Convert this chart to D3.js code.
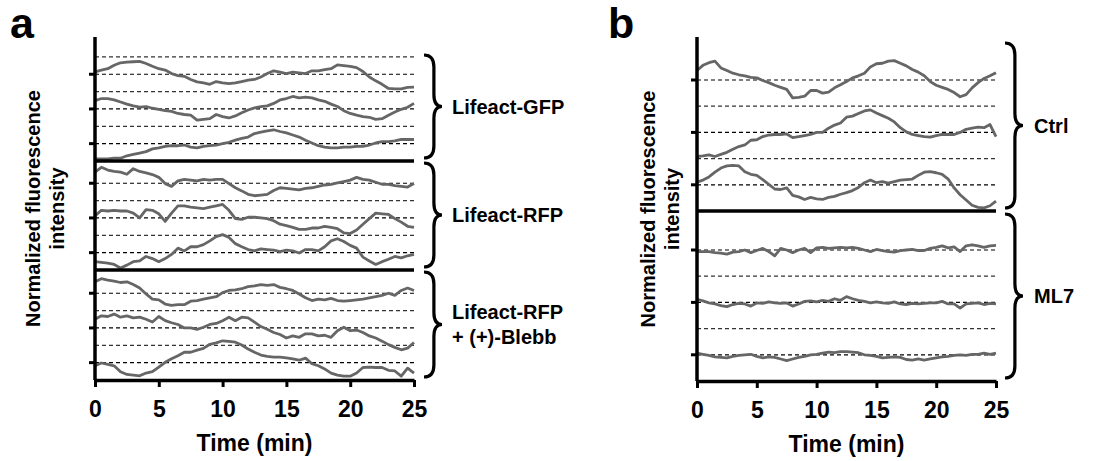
<!DOCTYPE html>
<html>
<head>
<meta charset="utf-8">
<script src="https://cdn.jsdelivr.net/npm/d3@7"></script>
<style>
  body { margin: 0; background: #fff; }
  text { font-family: "Liberation Sans", Arial, sans-serif; font-weight: bold; fill: #000; }
</style>
</head>
<body>
<svg id="chart" width="1115" height="461"></svg>
<script>
// one sample every 30 s over 25 min
const minutes = d3.range(0, 25.001, 0.5);
const timeTicks = [0, 5, 10, 15, 20, 25];

// each trace: deviation from its own baseline, in baseline steps; listed top to bottom
const gfpTraces = [
  [0.07,0.12,0.16,0.26,0.33,0.35,0.36,0.37,0.31,0.23,0.16,0.12,0.02,-0.04,-0.06,-0.15,-0.22,-0.25,-0.29,-0.21,-0.25,-0.27,-0.25,-0.21,-0.17,-0.15,-0.08,0.02,0.10,0.06,0.02,0.06,0.04,0.02,0.10,0.10,0.13,0.16,0.27,0.25,0.23,0.19,0.08,-0.08,-0.19,-0.29,-0.41,-0.42,-0.42,-0.38,-0.37],
  [0.24,0.30,0.30,0.26,0.20,0.14,0.09,0.05,0.07,0.02,-0.01,-0.05,-0.07,-0.13,-0.16,-0.18,-0.32,-0.30,-0.28,-0.16,-0.22,-0.26,-0.20,-0.11,-0.03,0.03,0.07,0.09,0.16,0.26,0.30,0.36,0.32,0.34,0.32,0.26,0.22,0.14,0.07,-0.05,-0.13,-0.18,-0.22,-0.24,-0.30,-0.28,-0.18,-0.09,-0.01,0.05,0.16],
  [-0.44,-0.44,-0.44,-0.42,-0.42,-0.35,-0.31,-0.27,-0.23,-0.15,-0.12,-0.08,-0.06,-0.06,-0.04,-0.10,-0.12,-0.08,-0.06,-0.04,0,0.04,0.10,0.15,0.19,0.29,0.33,0.37,0.40,0.35,0.31,0.25,0.19,0.10,0.02,-0.06,-0.10,-0.12,-0.12,-0.10,-0.10,-0.08,-0.08,-0.04,0.02,0.06,0.06,0.08,0.12,0.12,0.12]
];
const rfpTraces = [
  [0.32,0.46,0.38,0.34,0.32,0.26,0.42,0.34,0.30,0.25,0.17,-0.01,-0.09,0.07,0.11,0.09,0.07,0.11,0.09,0.11,0.11,-0.01,-0.13,-0.22,-0.32,-0.36,-0.34,-0.32,-0.21,-0.13,-0.15,-0.17,-0.19,-0.15,-0.13,-0.09,-0.05,-0.03,0.01,0.05,0.09,0.17,0.11,0.09,0.03,-0.03,-0.03,-0.07,-0.09,-0.11,-0.01],
  [0.06,0.22,0.20,0.22,0.20,0.20,0.14,0,0.24,0.22,0.12,-0.10,0.14,0.35,0.35,0.31,0.29,0.27,0.31,0.35,0.39,0.22,-0.02,-0.04,0.02,0.02,0,-0.02,-0.08,-0.18,-0.22,-0.27,-0.33,-0.33,-0.29,-0.29,-0.24,-0.27,-0.31,-0.43,-0.45,-0.35,-0.18,-0.02,0.14,0.12,0.10,-0.02,-0.12,-0.24,-0.27],
  [-0.26,-0.28,-0.30,-0.34,-0.44,-0.36,-0.26,-0.24,-0.11,-0.17,-0.26,-0.17,-0.05,0.13,0.05,0.17,0.17,0.23,0.34,0.46,0.52,0.44,0.26,0.17,0.09,0.05,0.11,0.09,0.07,0.03,0.07,0.05,-0.01,0.09,0.09,0.05,0.17,0.34,0.40,0.32,0.21,0.13,-0.13,-0.24,-0.34,-0.26,-0.19,-0.11,-0.15,-0.09,-0.05]
];
const blebbTraces = [
  [0.33,0.42,0.38,0.35,0.31,0.33,0.25,0.15,-0.02,-0.17,-0.19,-0.31,-0.35,-0.33,-0.33,-0.23,-0.21,-0.17,-0.13,-0.10,0.02,0.08,0.10,0.13,0.19,0.21,0.25,0.23,0.25,0.17,0.13,0.08,-0.02,-0.13,-0.21,-0.17,-0.19,-0.15,-0.21,-0.23,-0.21,-0.19,-0.17,-0.13,-0.10,-0.06,0,-0.06,0.08,0.15,0.08],
  [0.25,0.35,0.33,0.40,0.31,0.35,0.29,0.31,0.25,0.17,0.33,0.21,0.15,0.10,0,0,-0.04,0.02,0.10,0.13,0.21,0.31,0.21,0.31,0.29,0.17,0.04,-0.04,-0.13,-0.19,-0.29,-0.23,-0.27,-0.17,-0.17,-0.23,-0.21,-0.27,-0.08,0.02,-0.08,-0.06,-0.13,-0.23,-0.29,-0.38,-0.48,-0.56,-0.63,-0.58,-0.42],
  [-0.09,-0.01,-0.05,-0.09,-0.26,-0.34,-0.36,-0.38,-0.30,-0.26,-0.13,0.01,0.11,0.20,0.30,0.30,0.36,0.41,0.53,0.57,0.63,0.61,0.59,0.51,0.39,0.30,0.22,0.18,0.16,0.16,0.14,0.11,0.07,0.13,-0.03,-0.09,-0.18,-0.30,-0.36,-0.39,-0.39,-0.30,-0.14,-0.13,-0.14,-0.14,-0.22,-0.24,-0.39,-0.16,-0.30]
];
const ctrlTraces = [
  [0.18,0.28,0.33,0.36,0.23,0.18,0.13,0.10,0.08,0.05,0.04,-0.01,-0.05,-0.10,-0.14,-0.18,-0.34,-0.33,-0.31,-0.20,-0.20,-0.25,-0.23,-0.15,-0.09,-0.03,0.04,0.08,0.13,0.25,0.31,0.32,0.36,0.37,0.32,0.27,0.20,0.15,0.08,-0.03,-0.10,-0.14,-0.18,-0.24,-0.32,-0.28,-0.15,-0.05,0.03,0.08,0.14],
  [-0.46,-0.45,-0.43,-0.46,-0.42,-0.38,-0.32,-0.27,-0.24,-0.15,-0.14,-0.08,-0.05,-0.04,-0.04,-0.03,-0.10,-0.08,-0.06,-0.04,0,0,0.08,0.14,0.18,0.29,0.31,0.36,0.41,0.43,0.37,0.32,0.27,0.20,0.09,0.01,-0.04,-0.06,-0.08,-0.09,-0.06,-0.04,-0.04,-0.04,0,0.06,0.08,0.10,0.09,0.15,-0.08],
  [0.05,0.09,0.15,0.24,0.32,0.36,0.37,0.36,0.25,0.20,0.18,0.10,0.01,-0.08,-0.09,-0.06,-0.20,-0.23,-0.28,-0.24,-0.27,-0.28,-0.24,-0.22,-0.18,-0.15,-0.11,-0.05,0.04,0.09,0.04,0.06,0.03,0.06,0.09,0.10,0.11,0.18,0.24,0.25,0.23,0.20,0.11,-0.06,-0.19,-0.29,-0.39,-0.43,-0.44,-0.40,-0.31]
];
const ml7Traces = [
  [-0.03,-0.03,-0.03,-0.05,-0.06,-0.08,-0.04,-0.03,0,-0.05,-0.01,0.03,-0.03,-0.11,0.03,0,-0.05,0,0.03,-0.05,0.04,0.05,0.03,0.04,0.05,0.04,0.05,0.03,0,-0.03,0.01,-0.01,-0.03,-0.04,-0.01,0,0.01,-0.01,-0.01,0.03,0.05,0.08,0.04,0.06,-0.03,0.08,0.10,0.08,0.05,0.08,0.09],
  [0.06,0.03,-0.01,-0.03,-0.06,-0.08,-0.04,-0.02,-0.03,-0.07,-0.01,-0.02,0.01,-0.01,-0.02,-0.01,-0.07,-0.03,0.02,0.03,0.01,0.04,0.02,0.07,0.04,0.11,0.07,0.04,0.02,-0.01,0.01,-0.01,-0.02,0.01,-0.03,-0.04,-0.02,-0.03,-0.02,-0.01,-0.01,0.02,-0.03,-0.03,-0.11,-0.03,-0.02,-0.01,-0.04,-0.02,-0.03],
  [0.03,0.01,-0.01,-0.04,-0.05,-0.06,-0.03,-0.01,0,0.01,-0.03,-0.06,-0.04,-0.05,-0.08,-0.11,-0.08,-0.05,-0.03,0,0.01,0.03,0.05,0.04,0.06,0.06,0.05,0.04,0,-0.01,-0.03,-0.06,-0.05,-0.04,-0.05,-0.09,-0.10,-0.08,-0.10,-0.08,-0.06,-0.04,-0.03,-0.01,0,-0.01,0.01,0.01,0.03,0.01,0.03]
];

const yTitle = ["Normalized fluorescence", "intensity"];
const xTitle = "Time (min)";

// layout
const panels = [
  { letter: "a", letterX: 10, x0: 95, x1: 414, unit: 34.7, titleX: [40, 64], labelX: 452, braceX: 424,
    groups: [
      { top: 37,  bottom: 161, traces: gfpTraces,   grid: [0, 0.5, 1, 1.5, 2, 2.5], label: ["Lifeact-GFP"], braceTop: 55 },
      { top: 161, bottom: 270, traces: rfpTraces,   grid: [0, 0.5, 1, 1.5, 2], label: ["Lifeact-RFP"], braceTop: 163 },
      { top: 270, bottom: 380, traces: blebbTraces, grid: [0, 0.5, 1, 1.5, 2], label: ["Lifeact-RFP", "+ (+)-Blebb"], braceTop: 272 }
    ] },
  { letter: "b", letterX: 608, x0: 697, x1: 996, unit: 52.4, titleX: [655, 679], labelX: 1034, braceX: 1005,
    groups: [
      { top: 37,  bottom: 211, traces: ctrlTraces, grid: [0, 0.5, 1, 1.5, 2], label: ["Ctrl"], braceTop: 43 },
      { top: 211, bottom: 381, traces: ml7Traces,  grid: [0, 0.5, 1, 1.5, 2], label: ["ML7"], braceTop: 214 }
    ] }
];

const svg = d3.select("#chart");

function brace(x, yTop, yBot, w) {
  const ym = (yTop + yBot) / 2, r = 12, xm = x + w * 0.55;
  return `M${x},${yTop} Q${xm},${yTop} ${xm},${yTop + r} L${xm},${ym - r} Q${xm},${ym} ${x + w},${ym}` +
         ` Q${xm},${ym} ${xm},${ym + r} L${xm},${yBot - r} Q${xm},${yBot} ${x},${yBot}`;
}

panels.forEach(p => {
  const x = d3.scaleLinear().domain([0, 25]).range([p.x0, p.x1]);
  const g = svg.append("g");
  const top = p.groups[0].top, bottom = p.groups[p.groups.length - 1].bottom;

  p.groups.forEach((grp, gi) => {
    const yMax = (grp.bottom - grp.top) / p.unit - 0.5;
    const y = d3.scaleLinear().domain([-0.5, yMax]).range([grp.bottom, grp.top]);
    const n = grp.traces.length;

    // dashed reference lines
    g.append("g").selectAll("line").data(grp.grid).join("line")
      .attr("x1", p.x0).attr("x2", p.x1)
      .attr("y1", d => y(d)).attr("y2", d => y(d))
      .attr("stroke", d => Number.isInteger(d) ? "#000" : "#333")
      .attr("stroke-width", 1.2)
      .attr("stroke-dasharray", "4,3");

    // left ticks at each baseline
    g.append("g").selectAll("line").data(d3.range(n)).join("line")
      .attr("x1", p.x0 - 6).attr("x2", p.x0)
      .attr("y1", d => y(d)).attr("y2", d => y(d))
      .attr("stroke", "#000").attr("stroke-width", 3);

    // traces
    grp.traces.forEach((vals, ti) => {
      const base = n - 1 - ti;
      const line = d3.line()
        .x((d, i) => x(minutes[i]))
        .y(d => y(base + d));
      g.append("path")
        .attr("d", line(vals))
        .attr("fill", "none")
        .attr("stroke", "#666")
        .attr("stroke-width", 2.8)
        .attr("stroke-linejoin", "round");
    });

    // separator between groups
    if (gi > 0) {
      g.append("line")
        .attr("x1", p.x0).attr("x2", p.x1)
        .attr("y1", grp.top).attr("y2", grp.top)
        .attr("stroke", "#000").attr("stroke-width", 3.5);
    }

    // brace and label
    const braceBot = grp.bottom - 3;
    g.append("path")
      .attr("d", brace(p.braceX, grp.braceTop, braceBot, 18))
      .attr("fill", "none").attr("stroke", "#000").attr("stroke-width", 3.2);
    const mid = (grp.braceTop + braceBot) / 2;
    const lbl = g.append("text")
      .attr("x", p.labelX)
      .attr("y", mid + 7 - (grp.label.length - 1) * 12.5)
      .style("font-size", "20px");
    grp.label.forEach((s, i) => {
      lbl.append("tspan").attr("x", p.labelX).attr("dy", i === 0 ? 0 : 25).text(s);
    });
  });

  // y axis line
  g.append("line")
    .attr("x1", p.x0).attr("x2", p.x0)
    .attr("y1", top).attr("y2", bottom)
    .attr("stroke", "#000").attr("stroke-width", 3.5);

  // x axis
  const ax = g.append("g")
    .attr("transform", `translate(0,${bottom})`)
    .call(d3.axisBottom(x).tickValues(timeTicks).tickSize(7).tickSizeOuter(0).tickPadding(14));
  ax.select(".domain").attr("stroke-width", 3.5);
  ax.selectAll(".tick line").attr("stroke-width", 3);
  ax.selectAll(".tick text")
    .style("font-size", "23px")
    .style("font-family", "'Liberation Sans', Arial, sans-serif")
    .style("font-weight", "bold");

  g.append("text")
    .attr("x", (p.x0 + p.x1) / 2).attr("y", bottom + 71)
    .attr("text-anchor", "middle")
    .style("font-size", "23px")
    .text(xTitle);

  // y title (two lines)
  const cy = (top + bottom) / 2;
  yTitle.forEach((s, i) => {
    g.append("text")
      .attr("transform", `translate(${p.titleX[i]},${cy}) rotate(-90)`)
      .attr("text-anchor", "middle")
      .style("font-size", "20px")
      .text(s);
  });

  // panel letter
  g.append("text")
    .attr("x", p.letterX).attr("y", 38)
    .style("font-size", "43px")
    .text(p.letter);
});
</script>
</body>
</html>
